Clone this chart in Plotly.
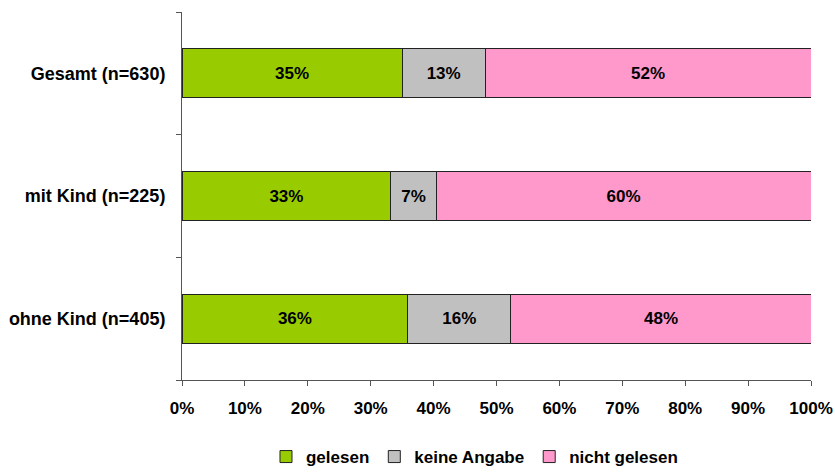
import plotly.graph_objects as go

categories = ["Gesamt (n=630)", "mit Kind (n=225)", "ohne Kind (n=405)"]
gelesen = [35.0, 33.2, 35.9]
keine_angabe = [13.2, 7.2, 16.4]
nicht_gelesen = [51.8, 59.6, 47.7]
series_names = ["gelesen", "keine Angabe", "nicht gelesen"]
colors = ["#99CC00", "#C0C0C0", "#FF99CC"]

font_family = "Liberation Sans, Arial, sans-serif"
FS = 17

fig = go.Figure()
for name, vals, col in zip(series_names, [gelesen, keine_angabe, nicht_gelesen], colors):
    fig.add_trace(go.Bar(
        y=categories, x=vals, name=name, orientation="h",
        marker=dict(color=col, line=dict(color="#222222", width=1)),
        text=vals, texttemplate="%{x:.0f}%", textposition="inside",
        insidetextanchor="middle",
        textfont=dict(family=font_family, size=FS, color="black", weight="bold"),
        hoverinfo="skip",
    ))

fig.update_layout(
    barmode="stack",
    bargap=0.6,
    width=835, height=475,
    margin=dict(l=182, r=24, t=12, b=95),
    plot_bgcolor="white", paper_bgcolor="white",
    font=dict(family=font_family, size=FS, color="black"),
    showlegend=True,
    legend=dict(orientation="h", x=0.465, xanchor="center",
                yref="container", y=-0.013, yanchor="bottom",
                font=dict(family=font_family, size=FS, color="black", weight="bold"),
                traceorder="normal", itemwidth=30, tracegroupgap=0),
    uniformtext=dict(mode="show", minsize=8),
)
fig.update_xaxes(range=[0, 100], dtick=10, ticksuffix="%", showgrid=False,
                 showline=True, linecolor="#555555", linewidth=1,
                 ticks="outside", ticklen=5, tickcolor="#555555",
                 tickfont=dict(family=font_family, size=FS, color="black", weight="bold"),
                 ticklabelstandoff=8,
                 zeroline=False, fixedrange=True, automargin=False)
fig.update_yaxes(categoryorder="array", categoryarray=categories[::-1],
                 showgrid=False, showline=True, linecolor="#555555", linewidth=1,
                 ticks="outside", ticklen=5, tickcolor="#555555", tickson="boundaries",
                 tickfont=dict(family=font_family, size=18, color="black", weight="bold"),
                 ticklabelstandoff=12, fixedrange=True, automargin=False)

fig.write_html("out.html", config={"displayModeBar": False},
               post_script="document.body.style.margin='0';document.body.style.overflow='hidden';")
